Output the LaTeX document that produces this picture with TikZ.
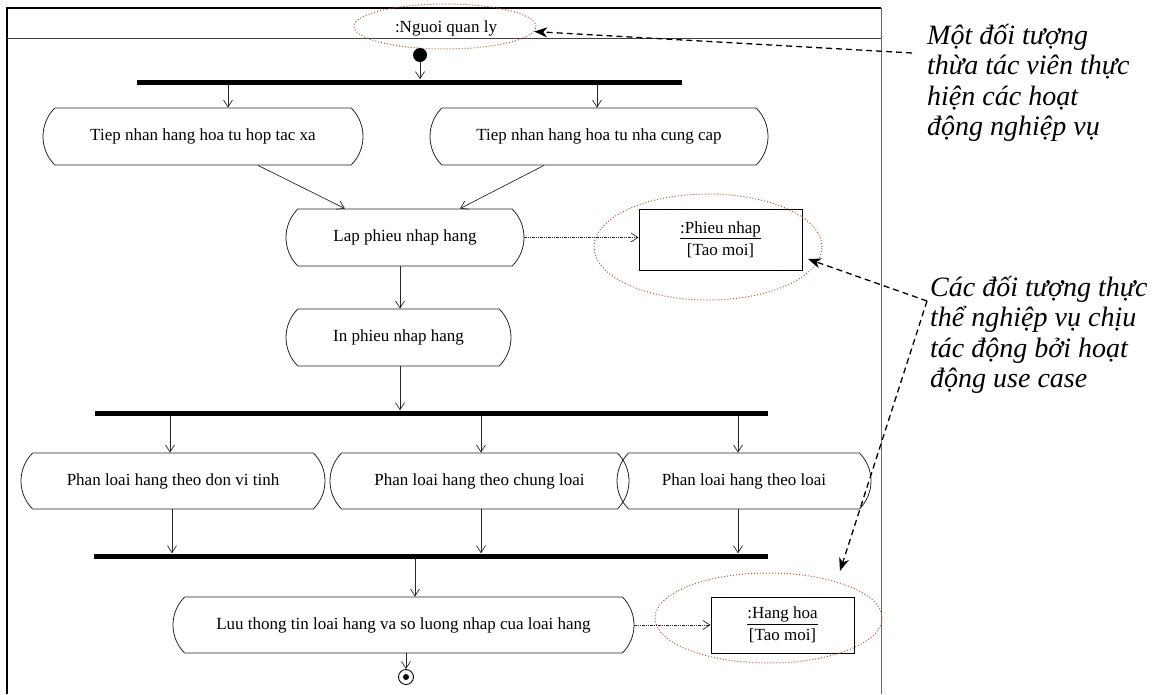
\documentclass[tikz,border=0pt]{standalone}
\usepackage{fontspec}
\setmainfont{Liberation Serif}
\usetikzlibrary{shapes.misc,shapes.geometric,arrows.meta}
\definecolor{rust}{RGB}{192,82,32}
\newcommand\umlfont{\fontsize{17}{24}\selectfont}
\newcommand\notefont{\fontsize{28}{30}\selectfont\itshape}
\tikzset{
  act/.style={rounded rectangle, rounded rectangle arc length=90, draw=black!85,
    line width=0.8pt, inner sep=0pt, minimum height=57pt, font=\umlfont},
  bar/.style={fill=black, inner sep=0pt, minimum height=5pt},
  flow/.style={-{Straight Barb[length=7pt,width=9pt]}, line width=0.7pt, draw=black!85},
  objflow/.style={flow, dash pattern=on 3pt off 1pt on 1pt off 1pt on 1pt off 1pt},
  objbox/.style={draw, line width=0.9pt, inner sep=0pt, align=center, font=\umlfont},
  halo/.style={ellipse, draw=rust, dotted, line width=1pt, inner sep=0pt},
  note/.style={dash pattern=on 6pt off 4pt, line width=1.3pt,
    -{Stealth[length=13pt,width=10pt,inset=4pt]}},
  notetext/.style={anchor=base west, inner sep=0pt, font=\notefont},
}
\newcommand\noteblock[4]{\vtop{\baselineskip=30.5pt\lineskiplimit=-100pt
  \hbox{#1}\hbox{#2}\hbox{#3}\hbox{#4}}}
\begin{document}
\begin{tikzpicture}[x=1pt,y=-1pt]
\useasboundingbox (0,0) rectangle (1153,694);

% swimlane frame, open at the bottom
\draw[line width=1.2pt] (7,694) -- (7,8) -- (881,8);
\draw[line width=0.8pt, black!60] (881,8) -- (881,694);
\draw[line width=1pt, black!75] (7,38) -- (881,38);
\node[font=\umlfont, inner sep=0pt] (lane) at (446,28) {:Nguoi quan ly};
\node[halo, minimum width=182pt, minimum height=45pt] (e0) at (445,26.5) {};

% start, forks and joins
\node[circle, fill=black, inner sep=0pt, minimum size=14pt] (start) at (420,55) {};
\node[bar, minimum width=545pt] (b1) at (409.5,82) {};
\node[bar, minimum width=673pt] (b2) at (431.5,413) {};
\node[bar, minimum width=674pt] (b3) at (431,556) {};

% activities
\node[act, minimum width=320pt] (a1) at (203,136.5) {Tiep nhan hang hoa tu hop tac xa};
\node[act, minimum width=338pt] (a2) at (599,136.5) {Tiep nhan hang hoa tu nha cung cap};
\node[act, minimum width=238pt] (lap) at (405,237.5) {Lap phieu nhap hang};
\node[act, minimum width=225pt] (inp) at (398.5,337.5) {In phieu nhap hang};
\node[act, minimum width=304pt, minimum height=56pt] (p1) at (173,481) {Phan loai hang theo don vi tinh};
\node[act, minimum width=299pt, minimum height=56pt] (p2) at (479.5,481) {Phan loai hang theo chung loai};
\node[act, minimum width=254pt, minimum height=56pt] (p3) at (744,481) {Phan loai hang theo loai};
\node[act, minimum width=461pt, minimum height=56pt] (luu) at (403.5,625) {Luu thong tin loai hang va so luong nhap cua loai hang};

% end state
\node[circle, draw, line width=0.9pt, inner sep=0pt, minimum size=15pt] (stop) at (406,677) {};
\node[circle, fill=black, inner sep=0pt, minimum size=6pt] (stopdot) at (stop) {};

% business objects
\node[objbox, minimum width=163pt, minimum height=61pt] (pn) at (720.5,239.5)
  {\underline{:Phieu nhap}\\[-2pt][Tao moi]};
\node[halo, minimum width=228pt, minimum height=106pt] (e1) at (708,247) {};
\node[objbox, minimum width=143pt, minimum height=56pt] (hh) at (782.5,625)
  {\underline{:Hang hoa}\\[-2pt][Tao moi]};
\node[halo, minimum width=227pt, minimum height=90pt] (e2) at (768.5,618) {};

% control flow
\draw[flow] (start) -- (420,0 |- b1.north);
\draw[flow] (228,0 |- b1.south) -- (228,0 |- a1.north);
\draw[flow] (597,0 |- b1.south) -- (597,0 |- a2.north);
\draw[flow] (258,0 |- a1.south) -- (345,0 |- lap.north);
\draw[flow] (544,0 |- a2.south) -- (460,0 |- lap.north);
\draw[flow] (400,0 |- lap.south) -- (400,0 |- inp.north);
\draw[flow] (400,0 |- inp.south) -- (400,0 |- b2.north);
\draw[flow] (170,0 |- b2.south) -- (170,0 |- p1.north);
\draw[flow] (481,0 |- b2.south) -- (481,0 |- p2.north);
\draw[flow] (738,0 |- b2.south) -- (738,0 |- p3.north);
\draw[flow] (172,0 |- p1.south) -- (172,0 |- b3.north);
\draw[flow] (481,0 |- p2.south) -- (481,0 |- b3.north);
\draw[flow] (738,0 |- p3.south) -- (738,0 |- b3.north);
\draw[flow] (415,0 |- b3.south) -- (415,0 |- luu.north);
\draw[flow] (406,0 |- luu.south) -- (stop.north);

% object flow
\draw[objflow] (lap.east) -- (pn.west |- lap.east);
\draw[objflow] (luu.east) -- (hh.west |- luu.east);

% annotations
\node[notetext] (n1text) at (927,44)
  {\noteblock{Một đối tượng}{thừa tác viên thực}{hiện các hoạt}{động nghiệp vụ}};
\node[notetext] (n2text) at (930,296)
  {\noteblock{Các đối tượng thực}{thể nghiệp vụ chịu}{tác động bởi hoạt}{động use case}};
\coordinate (n1) at (912,53);
\coordinate (n2) at (927,301);
\coordinate (t1) at (808,259);
\coordinate (t2) at (840,571);
\draw[note] (n1) -- (e0);
\draw[note] (n2) -- (t1);
\draw[note] (n2) -- (t2);
\end{tikzpicture}
\end{document}
